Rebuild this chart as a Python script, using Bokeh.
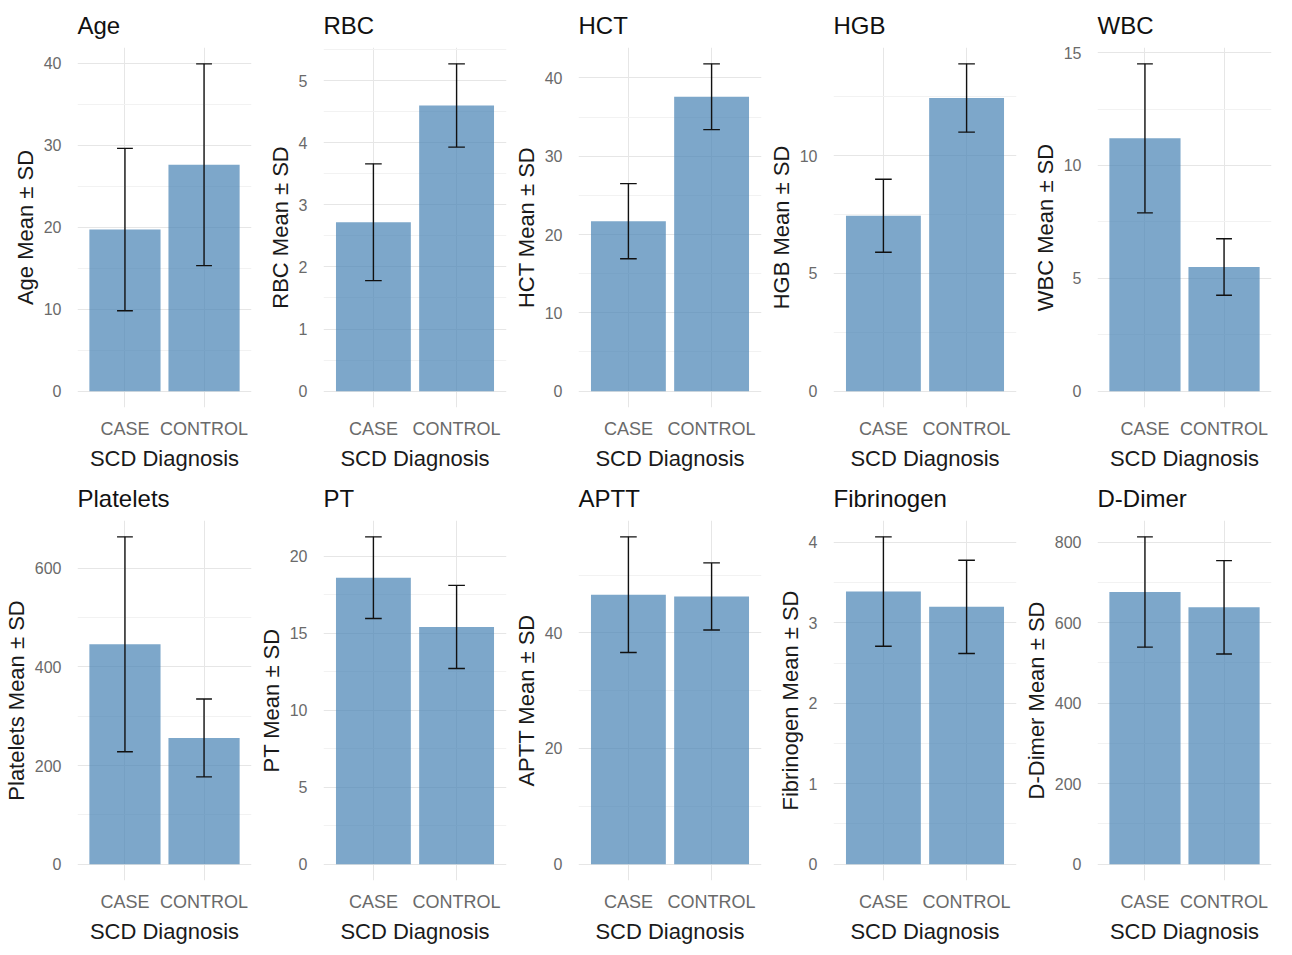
from bokeh.plotting import figure
from bokeh.layouts import gridplot
from bokeh.models import Range1d, FixedTicker
from bokeh.embed import file_html
from bokeh.resources import INLINE

variables = ["Age", "RBC", "HCT", "HGB", "WBC", "Platelets", "PT", "APTT", "Fibrinogen", "D-Dimer"]
groups = ["CASE", "CONTROL"]
case_mean = [19.7, 2.72, 21.7, 7.45, 11.2, 446, 18.6, 46.6, 3.39, 676]
case_sd = [9.9, 0.94, 4.8, 1.55, 3.3, 218, 2.65, 10.0, 0.68, 137]
control_mean = [27.6, 4.6, 37.6, 12.45, 5.5, 256, 15.4, 46.3, 3.2, 638]
control_sd = [12.3, 0.67, 4.2, 1.45, 1.25, 79, 2.7, 5.8, 0.58, 116]
major_ticks = [
    [0, 10, 20, 30, 40],
    [0, 1, 2, 3, 4, 5],
    [0, 10, 20, 30, 40],
    [0, 5, 10],
    [0, 5, 10, 15],
    [0, 200, 400, 600],
    [0, 5, 10, 15, 20],
    [0, 20, 40],
    [0, 1, 2, 3, 4],
    [0, 200, 400, 600, 800],
]
x_label = "SCD Diagnosis"

FONT = "Liberation Sans"
BAR_W = 0.9
CAP_W = 0.2

figs = []
for i, var in enumerate(variables):
    means = [case_mean[i], control_mean[i]]
    sds = [case_sd[i], control_sd[i]]
    lows = [m - s for m, s in zip(means, sds)]
    highs = [m + s for m, s in zip(means, sds)]
    top = max(highs)
    xs = [1, 2]

    p = figure(width=255, height=473, output_backend="svg", toolbar_location=None,
               x_range=Range1d(0.4, 2.6), y_range=Range1d(-0.05 * top, 1.05 * top),
               title=var, min_border_right=4, min_border_top=4, min_border_bottom=2,
               min_border_left=4)
    p.outline_line_color = None
    p.background_fill_color = "white"

    p.vbar(x=xs, top=means, bottom=0, width=BAR_W, fill_color="steelblue",
           fill_alpha=0.7, line_color=None)
    p.segment(x0=xs, y0=lows, x1=xs, y1=highs, line_color="#111111", line_width=1.4)
    p.segment(x0=[x - CAP_W / 2 for x in xs], y0=lows, x1=[x + CAP_W / 2 for x in xs],
              y1=lows, line_color="#111111", line_width=1.4)
    p.segment(x0=[x - CAP_W / 2 for x in xs], y0=highs, x1=[x + CAP_W / 2 for x in xs],
              y1=highs, line_color="#111111", line_width=1.4)

    mt = major_ticks[i]
    step = mt[1] - mt[0]
    minors = [t + step / 2 for t in mt if t + step / 2 <= 1.05 * top]
    p.yaxis.ticker = FixedTicker(ticks=mt, minor_ticks=minors)
    p.xaxis.ticker = FixedTicker(ticks=xs)
    p.xaxis.major_label_overrides = {1: groups[0], 2: groups[1]}

    for ax in (p.xaxis[0], p.yaxis[0]):
        ax.axis_line_color = None
        ax.major_tick_line_color = None
        ax.minor_tick_line_color = None
        ax.major_label_text_font = FONT
        ax.major_label_text_color = "#6a6a6a"
        ax.axis_label_text_font = FONT
        ax.axis_label_text_font_style = "normal"
        ax.axis_label_text_color = "#1a1a1a"
    p.xaxis.major_label_text_font_size = "18px"
    p.yaxis.major_label_text_font_size = "16px"
    p.xaxis.axis_label = x_label
    p.xaxis.axis_label_text_font_size = "22px"
    p.xaxis.major_label_standoff = 5
    p.xaxis.axis_label_standoff = 4
    p.yaxis.axis_label = var + " Mean \u00b1 SD"
    p.yaxis.axis_label_text_font_size = "22px"
    p.yaxis.major_label_standoff = 10
    p.yaxis.axis_label_standoff = 3

    p.ygrid.grid_line_color = "#e6e6e6"
    p.ygrid.minor_grid_line_color = "#f2f2f2"
    p.xgrid.grid_line_color = "#e6e6e6"

    p.title.text_font = FONT
    p.title.text_font_size = "24px"
    p.title.text_font_style = "normal"
    p.title.text_color = "#111111"
    p.title.offset = 0
    p.title.standoff = 18
    figs.append(p)

grid = gridplot([figs[:5], figs[5:]], toolbar_location=None)
open("out.html", "w").write(file_html(grid, INLINE))
